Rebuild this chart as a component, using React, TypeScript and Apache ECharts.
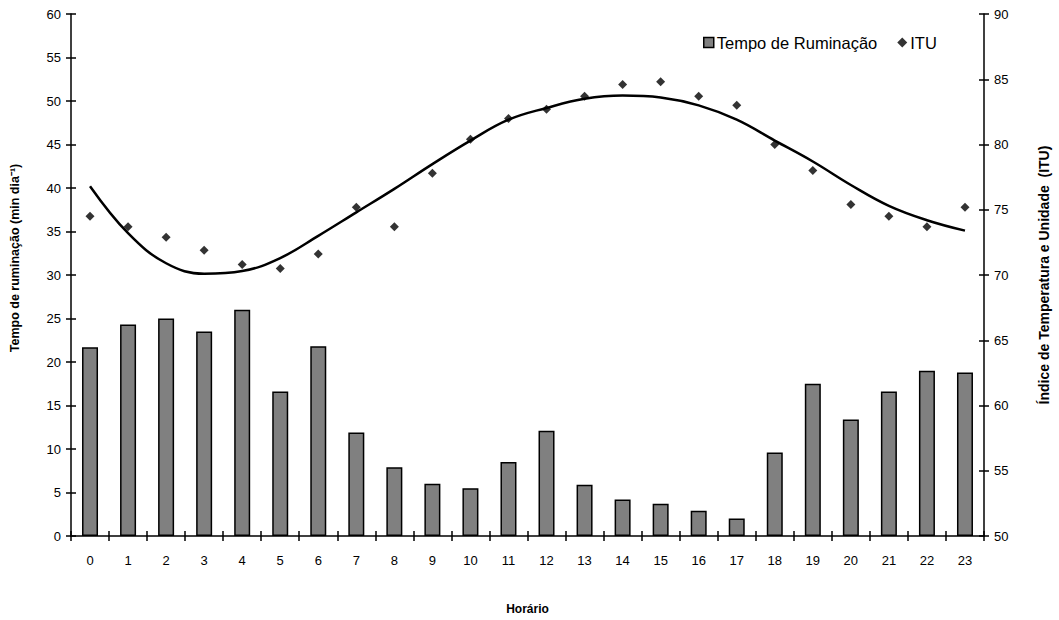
import React, { useEffect, useRef } from "react";
import * as echarts from "echarts";

const hours = ["0","1","2","3","4","5","6","7","8","9","10","11","12","13","14","15","16","17","18","19","20","21","22","23"];
const rumination = [21.7,24.3,25.0,23.5,26.0,16.6,21.8,11.9,7.9,6.0,5.5,8.5,12.1,5.9,4.2,3.7,2.9,2.0,9.6,17.5,13.4,16.6,19.0,18.8];
const itu = [74.5,73.7,72.9,71.9,70.8,70.5,71.6,75.2,73.7,77.8,80.4,82.0,82.7,83.7,84.6,84.8,83.7,83.0,80.0,78.0,75.4,74.5,73.7,75.2];
const ituTrend = [76.8,73.2,70.9,70.1,70.3,71.3,73.0,74.8,76.6,78.5,80.3,81.9,82.8,83.5,83.75,83.6,83.0,81.9,80.3,78.7,76.9,75.3,74.2,73.4];

const FONT = "Liberation Sans, Arial, sans-serif";

export default function App() {
  const ref = useRef<HTMLDivElement>(null);
  useEffect(() => {
    if (!ref.current) return;
    const chart = echarts.init(ref.current, null, { renderer: "svg" });
    const tickStyle = { color: "#000", width: 1.5 };
    chart.setOption({
      animation: false,
      backgroundColor: "#fff",
      textStyle: { fontFamily: FONT },
      grid: { left: 68, right: 74, top: 14, bottom: 77 },
      legend: {
        left: 698,
        top: 29,
        itemGap: 20,
        itemWidth: 10,
        itemHeight: 10,
        textStyle: { fontFamily: FONT, fontSize: 16.5, color: "#000", padding: [0, 0, 0, -2] },
        data: [
          { name: "Tempo de Ruminação", icon: "rect", itemStyle: { color: "#808080", borderColor: "#000", borderWidth: 1.5 } },
          { name: "ITU", icon: "diamond", itemStyle: { color: "#000" } },
        ],
      },
      xAxis: [
        {
          type: "category",
          data: hours,
          boundaryGap: true,
          name: "Horário",
          nameLocation: "middle",
          nameGap: 67,
          nameTextStyle: { fontFamily: FONT, fontSize: 12, fontWeight: "bold", color: "#000" },
          axisLine: { lineStyle: { color: "#000", width: 1.5 } },
          axisTick: { show: true, length: 5, alignWithLabel: false, lineStyle: tickStyle },
          axisLabel: { color: "#000", fontSize: 13, margin: 18, fontFamily: FONT },
          splitLine: { show: false },
        },
        {
          type: "category",
          data: hours,
          boundaryGap: true,
          position: "bottom",
          axisLine: { show: false },
          axisTick: { show: true, inside: true, length: 5, lineStyle: tickStyle },
          axisLabel: { show: false },
          splitLine: { show: false },
        },
      ],
      yAxis: [
        {
          type: "value",
          min: 0,
          max: 60,
          interval: 5,
          position: "left",
          name: "Tempo de ruminação (min dia⁻¹)",
          nameLocation: "middle",
          nameGap: 50,
          nameTextStyle: { fontFamily: FONT, fontSize: 12.5, fontWeight: "bold", color: "#000", padding: [0, 0, 0, 34] },
          axisLine: { show: true, lineStyle: { color: "#000", width: 1.5 } },
          axisTick: { show: true, length: 5, lineStyle: tickStyle },
          axisLabel: { color: "#000", fontSize: 13, margin: 10, fontFamily: FONT },
          splitLine: { show: false },
        },
        {
          type: "value",
          min: 50,
          max: 90,
          interval: 5,
          position: "right",
          name: "Índice de Temperatura e Unidade  (ITU)",
          nameLocation: "middle",
          nameGap: 53,
          nameRotate: 90,
          nameTextStyle: { fontFamily: FONT, fontSize: 14, fontWeight: "bold", color: "#000" },
          axisLine: { show: true, lineStyle: { color: "#000", width: 1.5 } },
          axisTick: { show: true, length: 5, lineStyle: tickStyle },
          axisLabel: { color: "#000", fontSize: 13, margin: 10, fontFamily: FONT },
          splitLine: { show: false },
        },
        {
          type: "value",
          min: 0,
          max: 60,
          interval: 5,
          position: "left",
          axisLine: { show: false },
          axisTick: { show: true, inside: true, length: 5, lineStyle: tickStyle },
          axisLabel: { show: false },
          splitLine: { show: false },
        },
        {
          type: "value",
          min: 50,
          max: 90,
          interval: 5,
          position: "right",
          axisLine: { show: false },
          axisTick: { show: true, inside: true, length: 5, lineStyle: tickStyle },
          axisLabel: { show: false },
          splitLine: { show: false },
        },
      ],
      series: [
        {
          name: "Tempo de Ruminação",
          type: "bar",
          yAxisIndex: 0,
          data: rumination,
          barWidth: 16,
          itemStyle: { color: "#808080", borderColor: "#000", borderWidth: 1.5 },
        },
        {
          name: "Tendência ITU",
          type: "line",
          yAxisIndex: 1,
          data: ituTrend,
          smooth: 0.4,
          showSymbol: false,
          symbol: "none",
          lineStyle: { color: "#000", width: 2.5 },
          z: 3,
        },
        {
          name: "ITU",
          type: "scatter",
          yAxisIndex: 1,
          data: itu,
          symbol: "diamond",
          symbolSize: [9, 9],
          itemStyle: { color: "#000" },
          z: 4,
        },
      ],
    });
    return () => chart.dispose();
  }, []);
  return <div ref={ref} style={{ position: "fixed", left: 0, top: 0, width: 1059, height: 620 }} />;
}
